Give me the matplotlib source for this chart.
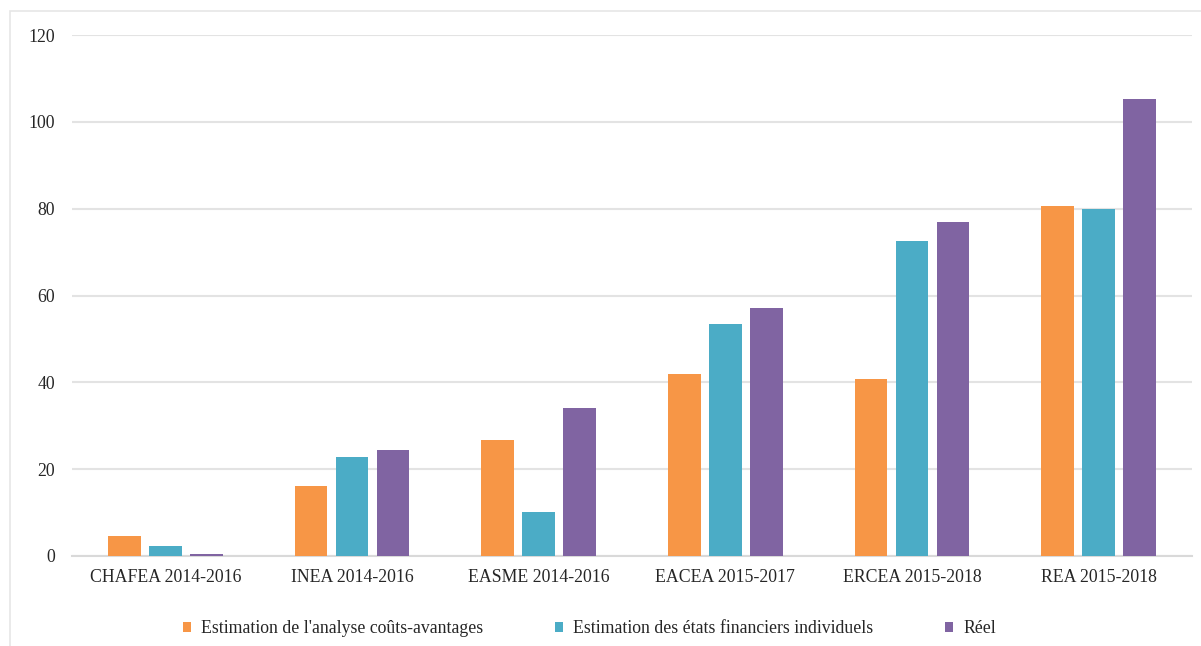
import matplotlib
matplotlib.use("Agg")
import matplotlib.pyplot as plt
import numpy as np
from matplotlib.patches import Rectangle

categories = ["CHAFEA 2014-2016", "INEA 2014-2016", "EASME 2014-2016",
              "EACEA 2015-2017", "ERCEA 2015-2018", "REA 2015-2018"]
series_names = ["Estimation de l'analyse coûts-avantages",
                "Estimation des états financiers individuels",
                "Réel"]
cba = [4.6, 16.1, 26.7, 41.9, 40.8, 80.6]
fin = [2.3, 22.8, 10.1, 53.5, 72.6, 80.0]
reel = [0.4, 24.4, 34.1, 57.1, 77.0, 105.3]
yticks = [0, 20, 40, 60, 80, 100, 120]

colors = ["#F79646", "#4BACC6", "#8064A2"]

plt.rcParams['font.family'] = ['Liberation Serif', 'DejaVu Serif']

fig = plt.figure(figsize=(12.01, 6.46), dpi=100)
ax = fig.add_axes([72/1201, 1 - 556/646, 1120/1201, (556-35)/646 * 1.0])

x = np.arange(len(categories))
w = 0.175
step = 0.22
for i, (vals, c, name) in enumerate(zip([cba, fin, reel], colors, series_names)):
    ax.bar(x + (i - 1) * step, vals, width=w, color=c, label=name, zorder=3)

ax.set_xlim(-0.5, len(categories) - 0.5)
ax.set_ylim(0, 120)
ax.set_yticks(yticks)
ax.set_yticklabels([str(t) for t in yticks])
ax.set_xticks(x)
ax.set_xticklabels(categories)
ax.yaxis.grid(True, color="#E3E3E3", linewidth=1.5, zorder=0)
for s in ["top", "right", "left"]:
    ax.spines[s].set_visible(False)
ax.spines["bottom"].set_color("#D9D9D9")
ax.spines["bottom"].set_linewidth(1.5)
ax.tick_params(axis="both", length=0, colors="#262626", labelsize=12.8)
ax.tick_params(axis="y", pad=12)
ax.tick_params(axis="x", pad=9)

leg = ax.legend(loc="upper center", bbox_to_anchor=(0.462, -0.093), ncol=3,
                frameon=False, fontsize=12.8, handlelength=0.45, handleheight=0.45,
                columnspacing=4.0, handletextpad=0.6)
for t in leg.get_texts():
    t.set_color("#262626")

# outer light border
fig.patches.append(Rectangle((10/1201, -0.1), 1.2, 1 - 11/646 + 0.1,
                             transform=fig.transFigure, fill=False,
                             edgecolor="#E6E6E6", linewidth=1.2))

fig.savefig("out.png", dpi=100)
